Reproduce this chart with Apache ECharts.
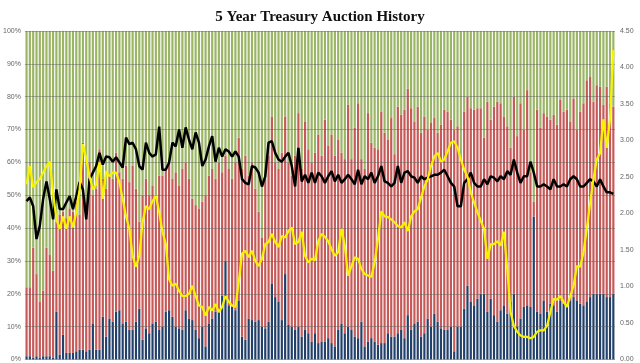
<!DOCTYPE html>
<html>
<head>
<meta charset="utf-8">
<script src="https://cdn.jsdelivr.net/npm/echarts@6/dist/echarts.min.js"></script>
<style>html,body{margin:0;padding:0;background:#fff}#c{width:640px;height:363px}</style>
</head>
<body>
<div id="c"></div>
<script>
// Direct bidders share (%)
const direct = [1,1,0.5,1,0.5,1,1,1,0.5,14.5,1.5,7.5,2,2,2,2.5,3,3,2.5,3,
11,3,3,13,7,12.5,11.5,14.5,15,11,11.5,9,9,11.5,15.5,6,9.5,8,11,11.5,
9,10,14.5,15,13,10,9.5,9,15,12.5,12,9,6.5,10,4,11,12.5,14.5,15,19.5,
30,16.5,16,15,18,7,6,12.5,12,11.5,12,10,9.5,11.5,23,19,17.5,12,26,10.5,
10,9,10,7,9,8,5.5,8,5,5.5,5.5,6.5,5,4,9,11,8,10,9,7,
6.5,11.5,4,5.5,6.5,5.5,4.5,5,5,8,7,7,8,9,6.5,13.5,9,11,11.5,7,
8,12.5,10,14,11.5,9.5,9,9,10,2.5,10,10,15.5,22.5,17.5,16.5,18.5,20,20,14.5,
18.5,13.5,11.5,15,16.5,14,17.5,20,10,12.5,16,16.5,16,43.5,14.5,14,18,14.5,17,16.5,
14.5,18,17,16,18,19,18,17,16.5,17.5,19,20,20,20,20,19,19,20];
// Indirect bidders share (%)
const indirect = [21,21,33.5,25,17,20,33,31,26.5,27.5,42.5,37.5,41,44,43,45.5,41,63,45.5,57,
39,49,61,42,45,43.5,43.5,48.5,42,44,47.5,45,50,40.5,26.5,44,45.5,42,42,37.5,
47,46,43.5,45,42,47,43.5,49,45,42.5,37,38,39.5,38,46,45,45.5,40.5,45,37.5,
32,41.5,39,45,49.5,51,56,43.5,48,40.5,33,27,45.5,50.5,51,41,40.5,51,48,49.5,
46,53,65,51,63.5,56,54.5,55,63.5,56.5,67.5,58.5,63.5,58,58,52,53,67.5,52,63.5,
71.5,49.5,54,69.5,59.5,59,59.5,70.5,64,59,66.5,55.5,69,65.5,69.5,69,67.5,61.5,65.5,62,
66,57.5,62,59.5,57.5,62,67,66.5,63,67.5,61,51,60,57.5,59,59.5,58,56.5,47.5,64,
54.5,63.5,67,63,57.5,57,47,60,58,65.5,54,65.5,41,4.5,61.5,56.5,57,59.5,56,58,
57,61,58.5,60,54.5,60.5,52,58.5,61.5,67.5,67,58.5,63.5,63,57.5,64,59,57];
// Primary dealers share (%)
const dealer = [78,78,66,74,82.5,79,66,68,73,58,56,55,57,54,55,52,56,34,52,40,
50,48,36,45,48,44,45,37,43,45,41,46,41,48,58,50,45,50,47,51,
44,44,42,40,45,43,47,42,40,45,51,53,54,52,50,44,42,45,40,43,
38,42,45,40,32.5,42,38,44,40,48,55,63,45,38,26,40,42,37,26,40,
44,38,25,42,27.5,36,40,37,31.5,38,27,35,31.5,38,33,37,39,22.5,39,29.5,
22,39,42,25,34,35.5,36,24.5,31,33,26.5,37.5,23,25.5,24,17.5,23.5,27.5,23,31,
26,30,28,26.5,31,28.5,24,24.5,27,30,29,39,24.5,20,23.5,24,23.5,23.5,32.5,21.5,
27,23,21.5,22,26,29,35.5,20,32,22,30,18,43,52,24,29.5,25,26,27,25.5,
28.5,21,24.5,24,27.5,20.5,30,24.5,22,15,14,21.5,16.5,17,22.5,17,22,23];
// Bid-to-cover ratio (right axis)
const bidToCover = [2.17,2.22,2.1,1.65,1.83,2.2,2.44,2.2,1.92,2.33,2.06,2.06,2.15,2.24,2.06,2.24,2.43,2.33,1.92,2.47,
2.56,2.65,2.83,2.67,2.78,2.77,2.71,2.77,2.7,2.63,3.04,2.95,2.97,2.88,2.65,2.6,2.97,2.83,2.78,2.81,
3.19,2.6,2.6,2.7,2.97,2.92,3.15,2.9,3.18,3.01,2.88,3.11,2.97,2.65,2.74,2.92,3.06,2.71,2.9,2.78,
2.88,2.85,2.78,2.85,2.78,2.47,2.42,2.4,2.65,2.63,2.56,2.37,2.51,2.97,2.99,2.83,2.74,2.71,2.78,2.83,
2.65,2.37,2.9,2.44,2.53,2.42,2.56,2.42,2.56,2.51,2.42,2.51,2.58,2.44,2.53,2.42,2.47,2.53,2.47,2.4,
2.6,2.4,2.51,2.47,2.56,2.42,2.51,2.65,2.44,2.42,2.37,2.42,2.65,2.42,2.56,2.58,2.51,2.49,2.42,2.51,
2.47,2.49,2.51,2.53,2.53,2.56,2.6,2.51,2.42,2.37,2.1,2.1,2.42,2.47,2.56,2.42,2.37,2.37,2.47,2.4,
2.51,2.49,2.44,2.51,2.47,2.58,2.53,2.74,2.56,2.42,2.51,2.51,2.71,2.56,2.37,2.37,2.4,2.37,2.33,2.47,
2.37,2.37,2.4,2.37,2.47,2.51,2.47,2.37,2.37,2.42,2.47,2.44,2.37,2.47,2.37,2.29,2.29,2.27];
// High yield (%) (right axis)
const highYield = [2.4,2.65,2.36,2.43,2.47,2.56,2.65,2.71,2.29,1.92,1.79,1.96,1.79,1.96,1.81,2.02,2.33,2.95,2.75,2.51,
2.33,2.4,2.7,2.2,2.58,2.51,2.56,2.56,2.43,2.2,1.96,1.79,1.42,1.27,1.42,1.88,2.1,2.06,2.17,2.24,
2.02,1.75,1.58,1.1,1.01,1.04,0.94,0.87,0.87,0.9,1.01,0.87,0.74,0.72,0.6,0.72,0.67,0.76,0.65,0.72,
0.87,0.79,0.74,0.72,1.06,1.45,1.49,1.4,1.49,1.35,1.28,1.38,1.58,1.61,1.72,1.61,1.54,1.69,1.67,1.76,
1.81,1.58,1.61,1.75,1.42,1.33,1.38,1.36,1.62,1.72,1.68,1.62,1.51,1.42,1.47,1.79,1.56,1.15,1.28,1.4,
1.38,1.24,1.17,1.15,1.13,1.33,1.65,2.03,1.96,1.95,1.92,1.88,1.83,1.81,1.88,1.76,1.96,2.03,2.06,2.22,
2.37,2.47,2.65,2.78,2.83,2.71,2.74,2.85,2.97,2.99,2.9,2.74,2.6,2.51,2.29,2.15,2.02,1.9,1.79,1.38,
1.58,1.58,1.62,1.56,1.75,1.24,0.65,0.46,0.38,0.33,0.31,0.31,0.29,0.31,0.38,0.4,0.4,0.46,0.65,0.83,
0.82,0.87,0.79,0.72,0.87,1.01,1.28,1.27,1.47,1.79,2.15,2.47,2.74,2.83,3.29,2.9,3.3,4.24];
// Tick settings
const leftTicks = {min: 0, max: 100, interval: 10};
const rightTicks = {min: 0, max: 4.5, interval: 0.5};
const categories = direct.map((_, i) => String(i + 1));

const chart = echarts.init(document.getElementById('c'), null, {renderer: 'canvas'});
const barCommon = {type: 'bar', stack: 'share', barWidth: '66%', yAxisIndex: 0, z: 2};
chart.setOption({
  animation: false,
  backgroundColor: '#ffffff',
  title: {
    text: '5 Year Treasury Auction History', left: 'center', top: 5,
    textStyle: {fontFamily: 'Liberation Serif', fontWeight: 'bold', fontSize: 15, color: '#111'}
  },
  grid: {left: 22, right: 25, top: 31, bottom: 2},
  xAxis: {
    type: 'category', data: categories, boundaryGap: true,
    axisLine: {show: false}, axisTick: {show: false}, axisLabel: {show: false}, splitLine: {show: false}
  },
  yAxis: [
    {
      type: 'value', min: leftTicks.min, max: leftTicks.max, interval: leftTicks.interval, z: 3,
      axisLine: {show: false}, axisTick: {show: false},
      axisLabel: {formatter: '{value}%', fontSize: 7, color: '#666', margin: 4, fontFamily: 'Liberation Sans'},
      splitLine: {show: true, lineStyle: {color: 'rgba(90,90,90,0.45)', width: 1}}
    },
    {
      type: 'value', min: rightTicks.min, max: rightTicks.max, interval: rightTicks.interval, z: 3,
      axisLine: {show: false}, axisTick: {show: false},
      axisLabel: {formatter: v => v.toFixed(2), fontSize: 7, color: '#666', margin: 5, fontFamily: 'Liberation Sans'},
      splitLine: {show: false}
    }
  ],
  series: [
    Object.assign({}, barCommon, {name: 'Direct', data: direct, itemStyle: {color: '#22406a'}}),
    Object.assign({}, barCommon, {name: 'Indirect', data: indirect, itemStyle: {color: '#c55a58'}}),
    Object.assign({}, barCommon, {name: 'Dealer', data: dealer, itemStyle: {color: '#9bb566'}}),
    {type: 'line', name: 'Bid to Cover', data: bidToCover, yAxisIndex: 1, symbol: 'none', z: 6,
     lineStyle: {color: '#000', width: 2.5}},
    {type: 'line', name: 'High Yield', data: highYield, yAxisIndex: 1, symbol: 'none', z: 7,
     lineStyle: {color: '#f7f200', width: 2.2}}
  ]
});
</script>
</body>
</html>
